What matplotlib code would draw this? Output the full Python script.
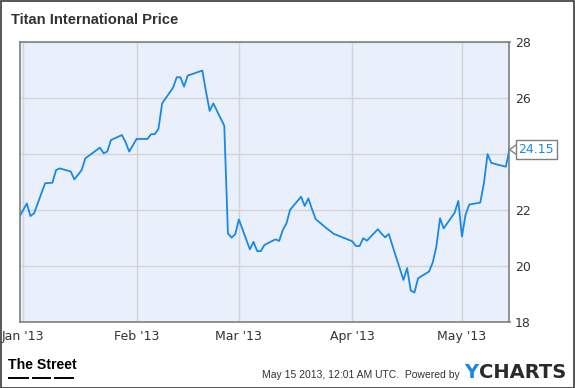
import matplotlib
matplotlib.use("Agg")
import matplotlib.pyplot as plt
import matplotlib.patches as patches
import pandas as pd

dates = [
    "2012-12-31", "2013-01-02", "2013-01-03", "2013-01-04", "2013-01-07", "2013-01-08",
    "2013-01-09", "2013-01-10", "2013-01-11", "2013-01-14", "2013-01-15", "2013-01-16",
    "2013-01-17", "2013-01-18", "2013-01-22", "2013-01-23", "2013-01-24", "2013-01-25",
    "2013-01-28", "2013-01-29", "2013-01-30", "2013-01-31", "2013-02-01", "2013-02-04",
    "2013-02-05", "2013-02-06", "2013-02-07", "2013-02-08", "2013-02-11", "2013-02-12",
    "2013-02-13", "2013-02-14", "2013-02-15", "2013-02-19", "2013-02-20", "2013-02-21",
    "2013-02-22", "2013-02-25", "2013-02-26", "2013-02-27", "2013-02-28", "2013-03-01",
    "2013-03-04", "2013-03-05", "2013-03-06", "2013-03-07", "2013-03-08", "2013-03-11",
    "2013-03-12", "2013-03-13", "2013-03-14", "2013-03-15", "2013-03-18", "2013-03-19",
    "2013-03-20", "2013-03-21", "2013-03-22", "2013-03-25", "2013-03-26", "2013-03-27",
    "2013-03-28", "2013-04-01", "2013-04-02", "2013-04-03", "2013-04-04", "2013-04-05",
    "2013-04-08", "2013-04-09", "2013-04-10", "2013-04-11", "2013-04-12", "2013-04-15",
    "2013-04-16", "2013-04-17", "2013-04-18", "2013-04-19", "2013-04-22", "2013-04-23",
    "2013-04-24", "2013-04-25", "2013-04-26", "2013-04-29", "2013-04-30", "2013-05-01",
    "2013-05-02", "2013-05-03", "2013-05-06", "2013-05-07", "2013-05-08", "2013-05-09",
    "2013-05-10", "2013-05-13", "2013-05-14",
]
prices = [
    21.76, 22.23, 21.78, 21.88, 22.95, 22.96,
    22.97, 23.42, 23.48, 23.37, 23.09, 23.25,
    23.42, 23.84, 24.22, 24.02, 24.08, 24.49,
    24.67, 24.42, 24.08, 24.30, 24.53, 24.53,
    24.70, 24.70, 24.89, 25.80, 26.36, 26.73,
    26.73, 26.40, 26.79, 26.97, 26.22, 25.53,
    25.80, 25.00, 21.16, 21.01, 21.13, 21.66,
    20.59, 20.86, 20.53, 20.53, 20.75, 20.95,
    20.89, 21.28, 21.52, 22.00, 22.47, 22.14,
    22.41, 22.02, 21.67, 21.34, 21.24, 21.14,
    21.09, 20.88, 20.71, 20.71, 20.99, 20.90,
    21.31, 21.15, 21.02, 21.14, 20.72, 19.50,
    19.92, 19.12, 19.05, 19.56, 19.80, 20.12,
    20.69, 21.70, 21.34, 21.90, 22.32, 21.05,
    21.84, 22.19, 22.26, 22.95, 23.99, 23.68,
    23.64, 23.54, 24.15,
]
month_ticks = ["2013-01-01", "2013-02-01", "2013-03-01", "2013-04-01", "2013-05-01"]
month_labels = ["Jan '13", "Feb '13", "Mar '13", "Apr '13", "May '13"]
y_ticks = [18, 20, 22, 24, 26, 28]
# the "24" label is hidden behind the last-value box in the reference
y_labels = ["18", "20", "22", "", "26", "28"]
last_label = "24.15"

W, H = 575, 388
fig = plt.figure(figsize=(W / 100, H / 100), dpi=100)
fig.patch.set_facecolor("white")

# outer border
fig.add_artist(patches.Rectangle((0.5 / W, 0.5 / H), (W - 1.5) / W, (H - 1.5) / H,
                                 transform=fig.transFigure, fill=False,
                                 edgecolor="#3a3a3a", linewidth=1.2))

ax_l, ax_r, ax_t, ax_b = 19.5, 509.5, 41.7, 322.0
ax = fig.add_axes([ax_l / W, 1 - ax_b / H, (ax_r - ax_l) / W, (ax_b - ax_t) / H])
ax.set_facecolor("#e9f0fb")

x = pd.to_datetime(dates)
ax.plot(x, prices, color="#1a88e6", linewidth=1.3, zorder=3)

ax.set_xlim(pd.Timestamp("2012-12-31"), pd.Timestamp("2013-05-14"))
ax.set_ylim(18, 28)

ax.set_xticks(pd.to_datetime(month_ticks))
ax.set_xticklabels(month_labels)
ax.set_yticks(y_ticks)
ax.set_yticklabels(y_labels)
ax.yaxis.tick_right()
ax.tick_params(axis="both", length=0, labelsize=9, labelcolor="#333333")
ax.tick_params(axis="y", pad=4)
ax.tick_params(axis="x", pad=6)
ax.grid(True, color="#d4d4d4", linewidth=1.0, zorder=1)
ax.set_axisbelow(True)
for s in ax.spines.values():
    s.set_color("#7f7f7f")
    s.set_linewidth(1.2)

# last value label
ax.annotate(last_label, xy=(x[-1], prices[-1]), xytext=(6.5, 0), textcoords="offset points",
            ha="left", va="center", fontsize=9, color="#1a88e6",
            bbox=dict(boxstyle="square,pad=0.22", facecolor="white", edgecolor="#7f7f7f",
                      linewidth=1.0),
            annotation_clip=False, zorder=5)
for dy in (3.5, -3.5):
    ax.annotate("", xy=(x[-1], prices[-1]), xytext=(5, dy), textcoords="offset points",
                arrowprops=dict(arrowstyle="-", color="#7f7f7f", linewidth=1.0,
                                shrinkA=0, shrinkB=0), annotation_clip=False)

# title
fig.text(11 / W, 1 - 20.5 / H, "Titan International Price", ha="left", va="center",
         fontsize=10.6, fontweight="bold", color="#333333", family="Liberation Sans")

# The Street logo
fig.text(7.5 / W, 1 - 365 / H, "The Street", ha="left", va="center", fontsize=10.2,
         fontweight="bold", color="black", family="Liberation Sans")
for x0, x1 in [(8, 29), (31.5, 51), (54, 74)]:
    fig.add_artist(plt.Line2D([x0 / W, x1 / W], [1 - 377.7 / H, 1 - 377.7 / H],
                              transform=fig.transFigure, color="black", linewidth=1.4,
                              solid_capstyle="butt"))

# footer
fig.text(460 / W, 1 - 375.5 / H, "May 15 2013, 12:01 AM UTC.  Powered by", ha="right",
         va="center", fontsize=7.5, color="#333333", family="Liberation Sans")
fig.text(464 / W, 1 - 373 / H, "Y", ha="left", va="center", fontsize=14,
         fontweight="bold", color="#1a88e6", family="DejaVu Sans")
fig.text(479 / W, 1 - 373 / H, "CHARTS", ha="left", va="center",
         fontsize=14, fontweight="bold", color="#2a2a2a", family="DejaVu Sans")

fig.savefig("out.png", dpi=100)
